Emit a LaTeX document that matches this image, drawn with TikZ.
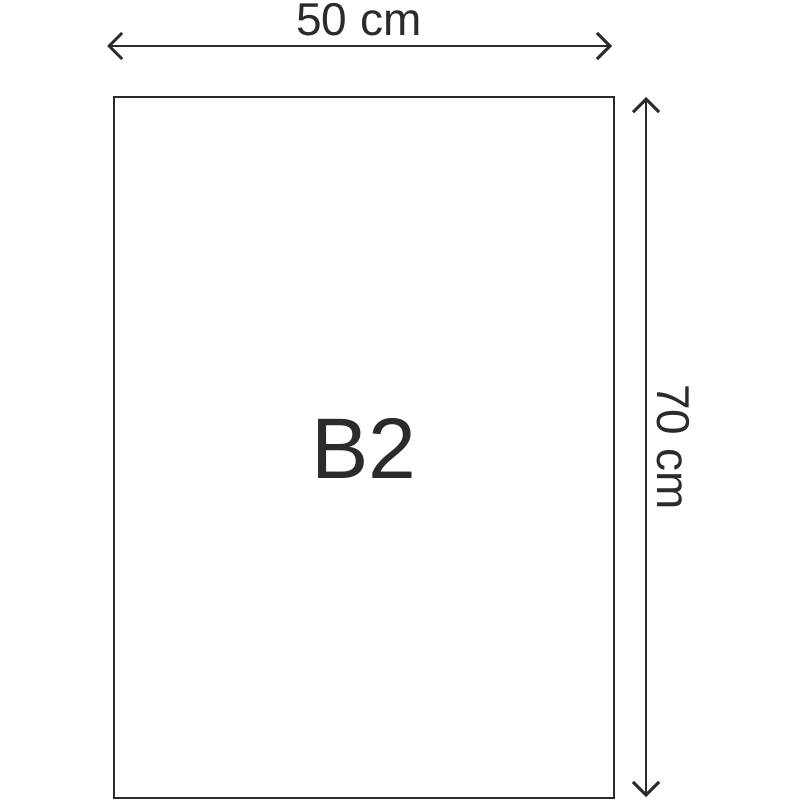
\documentclass[tikz,border=0pt]{standalone}
\usepackage{fontspec}
\setmainfont{Liberation Sans}
\usetikzlibrary{arrows.meta}
\definecolor{ink}{HTML}{2B2B2B}
\tikzset{
  sheet/.style={draw=ink, line width=2pt, inner sep=0pt, fill=white},
  dimarrow/.style={draw=ink, line width=2.6pt, {Straight Barb[length=13pt,width=26pt,line width=3pt]}-{Straight Barb[length=13pt,width=26pt,line width=3pt]}},
  dimlabel/.style={text=ink, font=\fontsize{46}{50}\selectfont, inner sep=0pt},
}
\begin{document}
\begin{tikzpicture}[x=1pt,y=-1pt]
\useasboundingbox (0,0) rectangle (800,800);
\node[sheet, minimum width=500pt, minimum height=701pt] (sheet) at (364,447.5) {};
\node[text=ink, font=\fontsize{86}{90}\selectfont, inner sep=0pt] (name) at (364,448) {B2};
\coordinate (wl) at (107,46);
\coordinate (wr) at (612,46);
\coordinate (ht) at (646,97);
\coordinate (hb) at (646,797);
\draw[dimarrow] (wl) -- (wr);
\draw[dimarrow] (ht) -- (hb);
\node[dimlabel, anchor=base] (wlab) at (359,36) {50 cm};
\node[dimlabel, anchor=base, rotate=-90] (hlab) at (657,447) {70 cm};
\end{tikzpicture}
\end{document}
